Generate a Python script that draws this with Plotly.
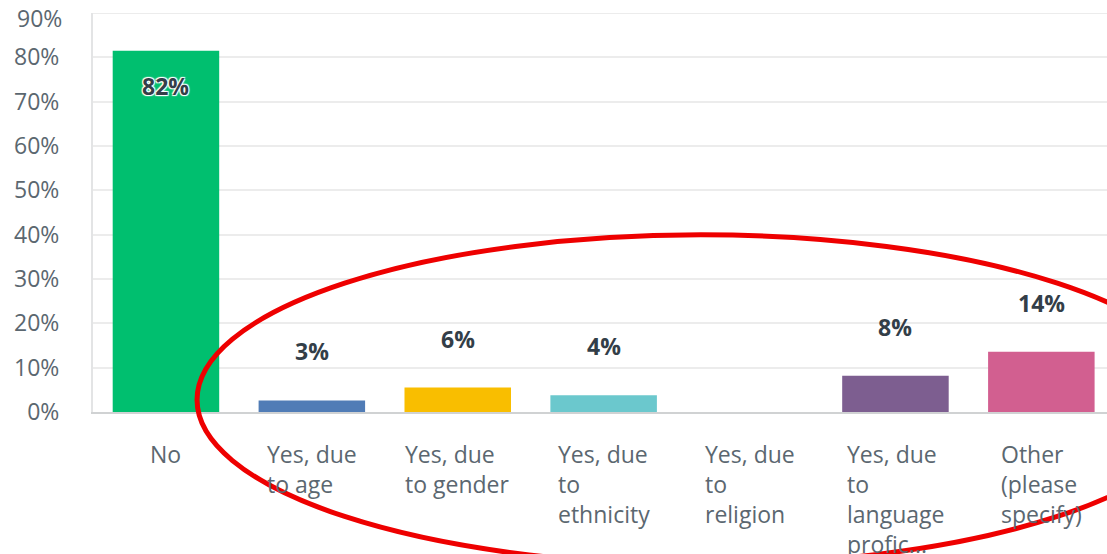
import plotly.graph_objects as go

# -----------------------------
# Data
# -----------------------------
categories = [
    "No",
    "Yes, due to age",
    "Yes, due to gender",
    "Yes, due to ethnicity",
    "Yes, due to religion",
    "Yes, due to language profic...",
    "Other (please specify)",
]
tick_text = [
    "No",
    "Yes, due<br>to age",
    "Yes, due<br>to gender",
    "Yes, due<br>to<br>ethnicity",
    "Yes, due<br>to<br>religion",
    "Yes, due<br>to<br>language<br>profic...",
    "Other<br>(please<br>specify)",
]
values = [81.5, 2.6, 5.5, 3.8, 0, 8.2, 13.6]
value_labels = ["82%", "3%", "6%", "4%", "", "8%", "14%"]
colors = ["#00BF6F", "#507CB6", "#F9BE00", "#6BC8CD", "#FF8B4F", "#7D5E90", "#D25F90"]

y_top = 90
y_top_label = "90%"

FONT = "Open Sans"
TEXT_GREY = "#5b6770"
LABEL_DARK = "#333e48"

fig = go.Figure()

fig.add_trace(
    go.Bar(
        x=categories,
        y=values,
        marker=dict(color=colors, line=dict(width=0)),
        hoverinfo="skip",
    )
)

# value labels: above the small bars, inside the big one
for cat, val, lab in zip(categories, values, value_labels):
    if not lab:
        continue
    inside = val > 50
    fig.add_annotation(
        x=cat,
        y=val,
        text=f"<b>{lab}</b>",
        showarrow=False,
        yshift=-35 if inside else 49,
        font=dict(
            family=FONT,
            size=23,
            color=LABEL_DARK,
            shadow="1px 1px 1px white, -1px -1px 1px white, 1px -1px 1px white, -1px 1px 1px white" if inside else "none",
        ),
    )

# category labels, left-aligned lines like the original
for cat, txt in zip(categories, tick_text):
    fig.add_annotation(
        x=cat,
        y=0,
        text=txt,
        showarrow=False,
        yanchor="top",
        xanchor="center",
        align="left",
        yshift=-24,
        font=dict(family=FONT, size=23, color=TEXT_GREY),
    )

# red highlight ellipse
fig.add_shape(
    type="circle",
    xref="paper",
    yref="paper",
    x0=0.1026,
    x1=1.0966,
    y0=-0.383,
    y1=0.444,
    line=dict(color="#ee0000", width=5),
    fillcolor="rgba(0,0,0,0)",
    layer="above",
)

fig.update_layout(
    width=1107,
    height=554,
    margin=dict(l=93, r=0, t=13, b=142),
    paper_bgcolor="white",
    plot_bgcolor="white",
    showlegend=False,
    bargap=0.27,
    font=dict(family=FONT, color=TEXT_GREY),
    xaxis=dict(
        range=[-0.5, 6.45],
        showticklabels=False,
        showgrid=False,
        showline=True,
        linecolor="#d0d2d3",
        linewidth=2,
        ticks="",
        fixedrange=True,
    ),
    yaxis=dict(
        range=[0, y_top],
        tickmode="linear",
        tick0=0,
        dtick=10,
        ticksuffix="%",
        tickfont=dict(family=FONT, size=23, color=TEXT_GREY),
        ticks="outside",
        ticklen=27,
        tickcolor="rgba(0,0,0,0)",
        showgrid=True,
        gridcolor="#ececec",
        gridwidth=2,
        showline=True,
        linecolor="#e3e4e5",
        linewidth=2,
        zeroline=False,
        fixedrange=True,
    ),
)

# top gridline / 90% label (the tick on the range edge gets hidden)
fig.add_annotation(
    x=0,
    xref="paper",
    y=y_top,
    text=y_top_label,
    showarrow=False,
    xanchor="right",
    xshift=-29,
    yshift=-5,
    font=dict(family=FONT, size=23, color=TEXT_GREY),
)
fig.add_hline(y=y_top, line=dict(color="#ececec", width=2), layer="below")

fig.write_html(
    "out.html",
    config={"displayModeBar": False},
    post_script="document.body.style.margin = '0';",
)
